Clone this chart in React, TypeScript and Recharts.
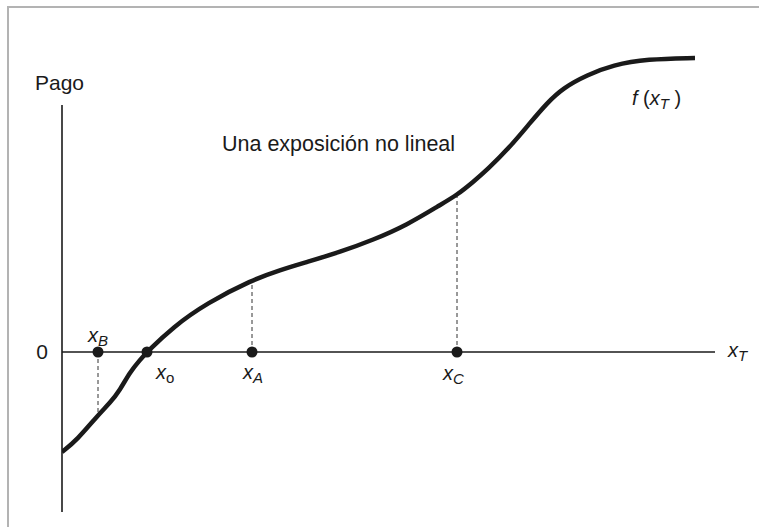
import {
  ComposedChart,
  Customized,
  Line,
  ReferenceDot,
  ReferenceLine,
  Scatter,
  XAxis,
  YAxis,
} from 'recharts';

// payoff curve f(x_T)
const CURVE_X = [
  0, 15, 36, 48, 58, 68, 78, 85, 111, 145, 190, 218, 245, 278, 311, 345, 378,
  395, 411, 425, 448, 468, 485, 501, 525, 551, 585, 633,
];
const CURVE_Y = [
  -100, -88, -63, -51, -38, -20, -8, 0, 25, 49, 72, 82, 90, 100, 112, 127, 147,
  157, 170, 182, 205, 229, 249, 264, 277, 287, 293, 294,
];

// marked points on the x_T axis and the payoff above/below each one
const POINT_SUBS = ['B', 'o', 'A', 'C'];
const POINT_X = [36, 85, 190, 395];
const POINT_PAYOFF = [-63, 0, 72, 157];

const X_AXIS_END = 653;
const Y_AXIS_RANGE = [-160, 247];

const FONT = '"Liberation Sans", Arial, Helvetica, sans-serif';
const INK = '#1a1a1a';

const curve = CURVE_X.map((x, i) => ({ x, y: CURVE_Y[i] }));
const points = POINT_X.map((x, i) => ({ x, y: 0, sub: POINT_SUBS[i] }));

// where each point's label sits relative to its dot
const LABEL_OFFSET: Record<string, [number, number]> = {
  B: [-10, -10],
  o: [9, 27],
  A: [-9, 27],
  C: [-14, 28],
};

function PointShape(props: any) {
  const { cx, cy, payload } = props;
  const [dx, dy] = LABEL_OFFSET[payload.sub];
  return (
    <g>
      <circle cx={cx} cy={cy} r={5.5} fill={INK} />
      <text x={cx + dx} y={cy + dy} fontFamily={FONT} fontSize={20} fill={INK}>
        <tspan fontStyle="italic">x</tspan>
        <tspan
          fontSize={15}
          dy={4}
          fontStyle={payload.sub === 'o' ? 'normal' : 'italic'}
        >
          {payload.sub}
        </tspan>
      </text>
    </g>
  );
}

export default function App() {
  return (
    <div
      style={{
        position: 'absolute',
        left: 0,
        top: 0,
        width: 759,
        height: 527,
        background: '#fff',
      }}
    >
      <div
        style={{
          position: 'absolute',
          left: 7,
          top: 6,
          right: 0,
          bottom: 0,
          borderTop: '2px solid #b3b3b3',
          borderLeft: '2px solid #b3b3b3',
        }}
      />
      <div style={{ position: 'absolute', left: 0, top: 0 }}>
        <ComposedChart
          width={759}
          height={527}
          data={curve}
          margin={{ top: 40, right: 44, bottom: 15, left: 62 }}
        >
          <XAxis
            type="number"
            dataKey="x"
            domain={[0, X_AXIS_END]}
            allowDataOverflow
            hide
          />
          <YAxis
            type="number"
            dataKey="y"
            domain={[-160, 312]}
            allowDataOverflow
            hide
          />
          {POINT_X.map((x, i) =>
            POINT_PAYOFF[i] === 0 ? null : (
              <ReferenceLine
                key={x}
                segment={[
                  { x, y: 0 },
                  { x, y: POINT_PAYOFF[i] },
                ]}
                stroke="#333"
                strokeWidth={1}
                strokeDasharray="4 3"
              />
            )
          )}
          <ReferenceLine
            segment={[
              { x: 0, y: Y_AXIS_RANGE[0] },
              { x: 0, y: Y_AXIS_RANGE[1] },
            ]}
            stroke={INK}
            strokeWidth={1.6}
          />
          <ReferenceLine
            segment={[
              { x: 0, y: 0 },
              { x: X_AXIS_END, y: 0 },
            ]}
            stroke={INK}
            strokeWidth={1.6}
          />
          <Line
            type="basis"
            dataKey="y"
            stroke={INK}
            strokeWidth={4.5}
            dot={false}
            isAnimationActive={false}
          />
          <Scatter
            data={points}
            shape={PointShape}
            isAnimationActive={false}
          />
          <ReferenceDot
            x={0}
            y={Y_AXIS_RANGE[1]}
            r={0}
            shape={(p: any) => (
              <text x={p.cx - 27} y={p.cy - 15} fontFamily={FONT} fontSize={21} fill={INK}>
                Pago
              </text>
            )}
          />
          <ReferenceDot
            x={0}
            y={0}
            r={0}
            shape={(p: any) => (
              <text
                x={p.cx - 14}
                y={p.cy + 7}
                textAnchor="end"
                fontFamily={FONT}
                fontSize={21}
                fill={INK}
              >
                0
              </text>
            )}
          />
          <ReferenceDot
            x={X_AXIS_END}
            y={0}
            r={0}
            shape={(p: any) => (
              <text x={p.cx + 13} y={p.cy + 5} fontFamily={FONT} fontSize={20} fill={INK}>
                <tspan fontStyle="italic">x</tspan>
                <tspan fontSize={15} dy={4} fontStyle="italic">
                  T
                </tspan>
              </text>
            )}
          />
          <ReferenceDot
            x={CURVE_X[CURVE_X.length - 1]}
            y={CURVE_Y[CURVE_Y.length - 1]}
            r={0}
            shape={(p: any) => (
              <text x={p.cx - 63} y={p.cy + 47} fontFamily={FONT} fontSize={20} fill={INK}>
                <tspan fontStyle="italic">f</tspan>
                <tspan> (</tspan>
                <tspan fontStyle="italic">x</tspan>
                <tspan fontSize={15} dy={4} fontStyle="italic">
                  T
                </tspan>
                <tspan dy={-4}> )</tspan>
              </text>
            )}
          />
          <Customized
            component={() => (
              <text x={222} y={151} fontFamily={FONT} fontSize={21.5} fill={INK}>
                Una exposición no lineal
              </text>
            )}
          />
        </ComposedChart>
      </div>
    </div>
  );
}
